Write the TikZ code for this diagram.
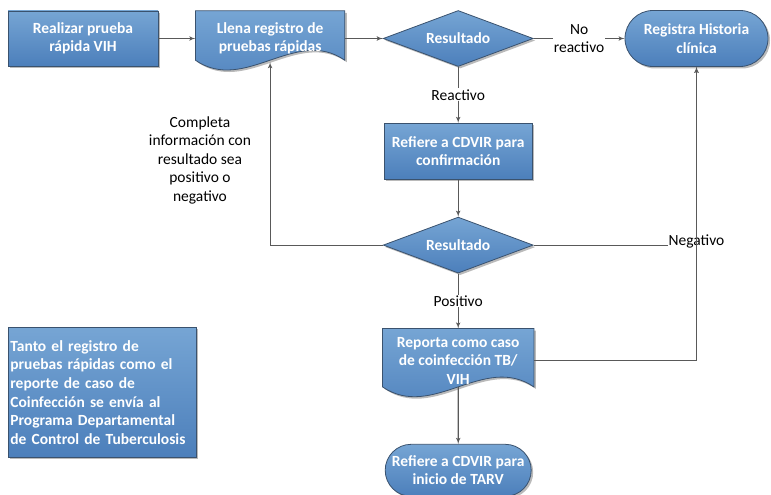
\documentclass[tikz,border=0pt]{standalone}
\usepackage{fontspec}
\setmainfont{Carlito}
\usetikzlibrary{positioning}
\usetikzlibrary{calc}
\usetikzlibrary{shapes.geometric,shapes.misc}
\usetikzlibrary{shadows,backgrounds}
\usetikzlibrary{arrows}

\definecolor{boxtop}{RGB}{118,165,212}
\definecolor{boxbot}{RGB}{76,127,187}
\definecolor{boxline}{RGB}{58,82,110}
\definecolor{flowline}{RGB}{89,89,89}

\tikzset{
  boxbase/.style={top color=boxtop, bottom color=boxbot, draw=boxline, line width=0.8pt,
    drop shadow={shadow xshift=2pt, shadow yshift=-2pt, opacity=0.45, fill=black!60}},
  boxtext/.style={text=white, font=\fontsize{15.5}{18.5}\selectfont\bfseries, align=center, inner sep=2pt},
  proc/.style={boxbase, boxtext, rectangle},
  doc/.style={boxtext, rectangle},
  decision/.style={boxbase, boxtext, diamond, aspect=2.6, minimum width=150pt, minimum height=56pt, inner sep=1pt},
  term/.style={boxbase, boxtext, rounded rectangle},
  flow/.style={draw=flowline, line width=1.1pt, -latex'},
  lbl/.style={text=black, font=\fontsize{15.5}{18.5}\selectfont, align=center, inner sep=1pt},
}

% document shape behind a doc node
\newcommand{\docshape}[1]{%
  \path[boxbase] (#1.north west) -- (#1.north east) -- ([yshift=6pt]#1.south east)
    .. controls ($(#1.south east)!0.33!(#1.south west)+(0,40pt)$)
    and ($(#1.south east)!0.67!(#1.south west)+(0,-28pt)$) .. ([yshift=6pt]#1.south west) -- cycle;}

\begin{document}
\begin{tikzpicture}
  \useasboundingbox (0,0) rectangle (771pt,-495pt);

  \node[proc, minimum width=150pt, minimum height=55pt] (realizar) at (83pt,-38.5pt) {Realizar prueba\\rápida VIH};
  \node[doc, right=37pt of realizar, minimum width=149pt, minimum height=55pt] (llena) {Llena registro de\\pruebas rápidas};
  \node[decision, right=38pt of llena] (res1) {Resultado};
  \node[term, right=91pt of res1, minimum width=147pt, minimum height=56pt] (historia) {Registra Historia\\clínica};
  \node[proc, below=56pt of res1, minimum width=148pt, minimum height=56pt] (conf) {Refiere a CDVIR para\\confirmación};
  \node[decision, below=37pt of conf] (res2) {Resultado};
  \node[doc, below=55pt of res2, minimum width=151pt, minimum height=64pt] (reporta) {Reporta como caso\\de coinfección TB/\\VIH};
  \node[term, below=51pt of reporta, minimum width=150pt, minimum height=52pt] (tarv) {Refiere a CDVIR para\\inicio de TARV};

  \node[proc, anchor=north west, align=left, text width=184pt, minimum height=130pt, inner sep=2pt,
        font={\fontsize{15.5}{18.7}\selectfont\bfseries\hyphenpenalty=10000}] (nota) at (8pt,-327pt)
        {Tanto el registro de\\pruebas rápidas como el\\reporte de caso de\\Coinfección se envía al\\Programa Departamental\\de Control de Tuberculosis};
  \node[lbl] (completa) at (200pt,-160pt) {Completa\\información con\\resultado sea\\positivo o\\negativo};

  \begin{scope}[on background layer]
    \docshape{llena}
    \docshape{reporta}
  \end{scope}

  \draw[flow] (realizar) -- (llena);
  \draw[flow] (llena) -- (res1);
  \draw[flow] (res1) -- node[lbl, fill=white] {No\\reactivo} (historia);
  \draw[flow] (res1) -- node[lbl, fill=white] {Reactivo} (conf);
  \draw[flow] (conf) -- (res2);
  \draw[flow] (res2.west) -| ([yshift=4pt]llena.south);
  \draw[flow] (res2) -- node[lbl, fill=white] {Positivo} (reporta);
  \draw[flow] (res2.east) -| node[lbl, fill=white, pos=0.5, yshift=4pt] {Negativo} (historia.south);
  \draw[flow] (reporta.east) -| (historia.south);
  \draw[flow] ([yshift=6pt]reporta.south) -- (tarv);
\end{tikzpicture}
\end{document}
